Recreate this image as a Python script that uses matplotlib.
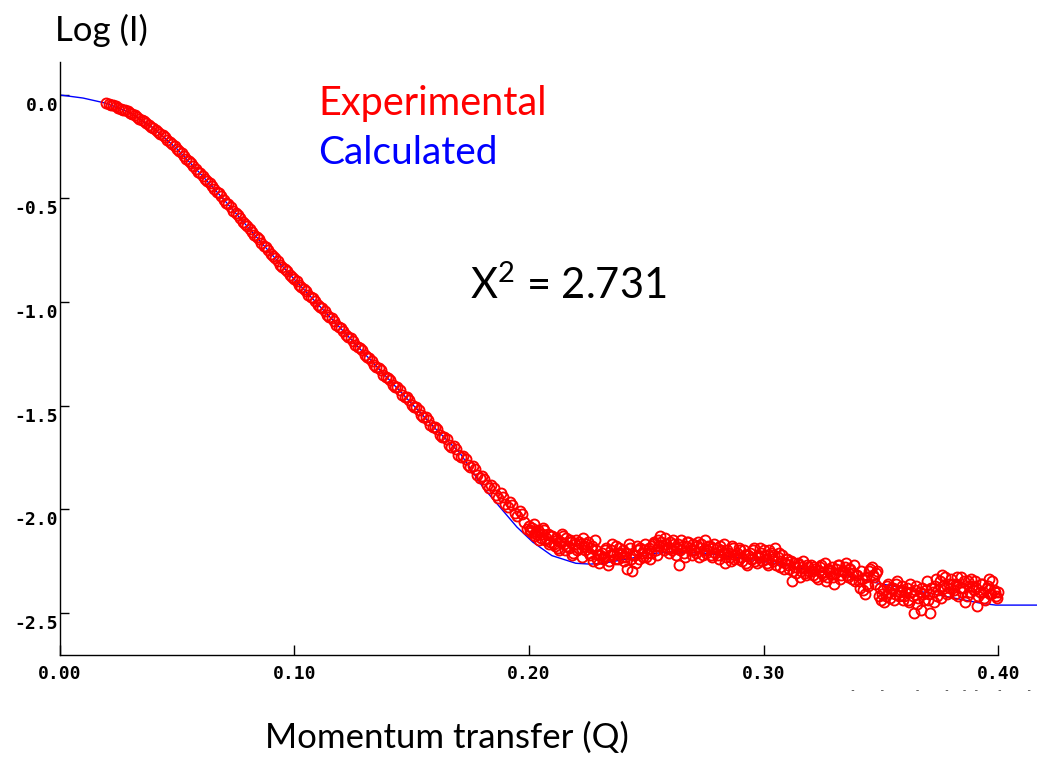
import matplotlib.pyplot as plt
from matplotlib.transforms import ScaledTranslation

# experimental points, low Q part (even steps 0.020 .. 0.198)
q_low = [0.020, 0.022, 0.024, 0.026, 0.028, 0.030, 0.032, 0.034, 0.036, 0.038,
         0.040, 0.042, 0.044, 0.046, 0.048, 0.050, 0.052, 0.054, 0.056, 0.058,
         0.060, 0.062, 0.064, 0.066, 0.068, 0.070, 0.072, 0.074, 0.076, 0.078,
         0.080, 0.082, 0.084, 0.086, 0.088, 0.090, 0.092, 0.094, 0.096, 0.098,
         0.100, 0.102, 0.104, 0.106, 0.108, 0.110, 0.112, 0.114, 0.116, 0.118,
         0.120, 0.122, 0.124, 0.126, 0.128, 0.130, 0.132, 0.134, 0.136, 0.138,
         0.140, 0.142, 0.144, 0.146, 0.148, 0.150, 0.152, 0.154, 0.156, 0.158,
         0.160, 0.162, 0.164, 0.166, 0.168, 0.170, 0.172, 0.174, 0.176, 0.178,
         0.180, 0.182, 0.184, 0.186, 0.188, 0.190, 0.192, 0.194, 0.196, 0.198]
logi_low = [-0.038, -0.050, -0.055, -0.067, -0.073, -0.088, -0.097, -0.116, -0.125, -0.146,
            -0.158, -0.181, -0.193, -0.218, -0.235, -0.262, -0.281, -0.311, -0.329, -0.359,
            -0.377, -0.407, -0.425, -0.456, -0.476, -0.508, -0.528, -0.560, -0.580, -0.612,
            -0.632, -0.664, -0.684, -0.716, -0.736, -0.768, -0.788, -0.820, -0.839, -0.869,
            -0.887, -0.918, -0.935, -0.966, -0.983, -1.014, -1.030, -1.062, -1.078, -1.110,
            -1.126, -1.158, -1.174, -1.207, -1.221, -1.255, -1.270, -1.303, -1.317, -1.352,
            -1.365, -1.399, -1.413, -1.448, -1.460, -1.496, -1.508, -1.545, -1.556, -1.593,
            -1.602, -1.642, -1.650, -1.690, -1.697, -1.738, -1.745, -1.786, -1.792, -1.835,
            -1.840, -1.885, -1.884, -1.930, -1.925, -1.975, -1.968, -2.020, -2.010, -2.062]

# experimental points, low Q part (odd steps 0.021 .. 0.199)
q_low_odd = [0.021, 0.023, 0.025, 0.027, 0.029, 0.031, 0.033, 0.035, 0.037, 0.039,
             0.041, 0.043, 0.045, 0.047, 0.049, 0.051, 0.053, 0.055, 0.057, 0.059,
             0.061, 0.063, 0.065, 0.067, 0.069, 0.071, 0.073, 0.075, 0.077, 0.079,
             0.081, 0.083, 0.085, 0.087, 0.089, 0.091, 0.093, 0.095, 0.097, 0.099,
             0.101, 0.103, 0.105, 0.107, 0.109, 0.111, 0.113, 0.115, 0.117, 0.119,
             0.121, 0.123, 0.125, 0.127, 0.129, 0.131, 0.133, 0.135, 0.137, 0.139,
             0.141, 0.143, 0.145, 0.147, 0.149, 0.151, 0.153, 0.155, 0.157, 0.159,
             0.161, 0.163, 0.165, 0.167, 0.169, 0.171, 0.173, 0.175, 0.177, 0.179,
             0.181, 0.183, 0.185, 0.187, 0.189, 0.191, 0.193, 0.195, 0.197, 0.199]
logi_low_odd = [-0.045, -0.051, -0.062, -0.071, -0.079, -0.093, -0.105, -0.121, -0.134, -0.153,
                -0.168, -0.188, -0.204, -0.228, -0.247, -0.273, -0.294, -0.321, -0.342, -0.370,
                -0.391, -0.418, -0.438, -0.468, -0.490, -0.520, -0.542, -0.572, -0.594, -0.624,
                -0.646, -0.676, -0.698, -0.728, -0.750, -0.780, -0.802, -0.833, -0.852, -0.880,
                -0.900, -0.929, -0.948, -0.977, -0.996, -1.025, -1.043, -1.073, -1.091, -1.121,
                -1.139, -1.169, -1.187, -1.218, -1.234, -1.266, -1.283, -1.314, -1.330, -1.362,
                -1.378, -1.410, -1.426, -1.458, -1.474, -1.506, -1.522, -1.554, -1.570, -1.604,
                -1.615, -1.652, -1.664, -1.700, -1.712, -1.748, -1.760, -1.798, -1.805, -1.848,
                -1.855, -1.900, -1.898, -1.945, -1.940, -1.990, -1.982, -2.035, -2.025, -2.095]

# experimental points, high Q part (0.200 .. 0.400)
q_high = [0.200, 0.201, 0.202, 0.203, 0.204, 0.205, 0.206, 0.207, 0.208, 0.209,
          0.210, 0.211, 0.212, 0.213, 0.214, 0.215, 0.216, 0.217, 0.218, 0.219,
          0.220, 0.221, 0.222, 0.223, 0.224, 0.225, 0.226, 0.227, 0.228, 0.229,
          0.230, 0.231, 0.232, 0.233, 0.234, 0.235, 0.236, 0.237, 0.238, 0.239,
          0.240, 0.241, 0.242, 0.243, 0.244, 0.245, 0.246, 0.247, 0.248, 0.249,
          0.250, 0.251, 0.252, 0.253, 0.254, 0.255, 0.256, 0.257, 0.258, 0.259,
          0.260, 0.261, 0.262, 0.263, 0.264, 0.265, 0.266, 0.267, 0.268, 0.269,
          0.270, 0.271, 0.272, 0.273, 0.274, 0.275, 0.276, 0.277, 0.278, 0.279,
          0.280, 0.281, 0.282, 0.283, 0.284, 0.285, 0.286, 0.287, 0.288, 0.289,
          0.290, 0.291, 0.292, 0.293, 0.294, 0.295, 0.296, 0.297, 0.298, 0.299,
          0.300, 0.301, 0.302, 0.303, 0.304, 0.305, 0.306, 0.307, 0.308, 0.309,
          0.310, 0.311, 0.312, 0.313, 0.314, 0.315, 0.316, 0.317, 0.318, 0.319,
          0.320, 0.321, 0.322, 0.323, 0.324, 0.325, 0.326, 0.327, 0.328, 0.329,
          0.330, 0.331, 0.332, 0.333, 0.334, 0.335, 0.336, 0.337, 0.338, 0.339,
          0.340, 0.341, 0.342, 0.343, 0.344, 0.345, 0.346, 0.347, 0.348, 0.349,
          0.350, 0.351, 0.352, 0.353, 0.354, 0.355, 0.356, 0.357, 0.358, 0.359,
          0.360, 0.361, 0.362, 0.363, 0.364, 0.365, 0.366, 0.367, 0.368, 0.369,
          0.370, 0.371, 0.372, 0.373, 0.374, 0.375, 0.376, 0.377, 0.378, 0.379,
          0.380, 0.381, 0.382, 0.383, 0.384, 0.385, 0.386, 0.387, 0.388, 0.389,
          0.390, 0.391, 0.392, 0.393, 0.394, 0.395, 0.396, 0.397, 0.398, 0.399,
          0.400]
logi_high = [-2.08, -2.11, -2.07, -2.12, -2.10, -2.14, -2.09, -2.15, -2.12, -2.16,
             -2.13, -2.18, -2.15, -2.20, -2.12, -2.17, -2.14, -2.19, -2.16, -2.21,
             -2.15, -2.19, -2.17, -2.14, -2.20, -2.16, -2.22, -2.18, -2.15, -2.24,
             -2.26, -2.21, -2.23, -2.19, -2.25, -2.20, -2.22, -2.18, -2.24, -2.21,
             -2.20, -2.23, -2.29, -2.19, -2.30, -2.22, -2.18, -2.24, -2.21, -2.20,
             -2.23, -2.19, -2.21, -2.17, -2.20, -2.15, -2.13, -2.18, -2.14, -2.19,
             -2.16, -2.20, -2.17, -2.19, -2.27, -2.15, -2.21, -2.18, -2.16, -2.20,
             -2.17, -2.21, -2.16, -2.19, -2.22, -2.15, -2.20, -2.18, -2.23, -2.17,
             -2.19, -2.24, -2.20, -2.17, -2.23, -2.21, -2.25, -2.19, -2.22, -2.24,
             -2.20, -2.25, -2.22, -2.27, -2.21, -2.24, -2.19, -2.26, -2.23, -2.21,
             -2.20, -2.24, -2.27, -2.21, -2.25, -2.19, -2.23, -2.28, -2.22, -2.26,
             -2.24, -2.29, -2.35, -2.26, -2.31, -2.27, -2.30, -2.25, -2.32, -2.28,
             -2.27, -2.32, -2.29, -2.34, -2.28, -2.31, -2.26, -2.33, -2.30, -2.28,
             -2.36, -2.29, -2.27, -2.32, -2.30, -2.26, -2.33, -2.29, -2.31, -2.35,
             -2.32, -2.38, -2.34, -2.41, -2.36, -2.30, -2.28, -2.33, -2.31, -2.42,
             -2.44, -2.39, -2.42, -2.36, -2.43, -2.38, -2.41, -2.35, -2.40, -2.37,
             -2.42, -2.38, -2.45, -2.40, -2.50, -2.37, -2.43, -2.49, -2.41, -2.39,
             -2.44, -2.50, -2.40, -2.37, -2.42, -2.35, -2.32, -2.38, -2.41, -2.36,
             -2.34, -2.39, -2.36, -2.42, -2.33, -2.38, -2.45, -2.35, -2.40, -2.37,
             -2.35, -2.47, -2.40, -2.36, -2.43, -2.38, -2.34, -2.41, -2.39, -2.42,
             -2.40]

# experimental points, high Q part, half steps (0.2005 .. 0.3995)
q_high_half = [0.2005, 0.2015, 0.2025, 0.2035, 0.2045, 0.2055, 0.2065, 0.2075, 0.2085, 0.2095,
               0.2105, 0.2115, 0.2125, 0.2135, 0.2145, 0.2155, 0.2165, 0.2175, 0.2185, 0.2195,
               0.2205, 0.2215, 0.2225, 0.2235, 0.2245, 0.2255, 0.2265, 0.2275, 0.2285, 0.2295,
               0.2305, 0.2315, 0.2325, 0.2335, 0.2345, 0.2355, 0.2365, 0.2375, 0.2385, 0.2395,
               0.2405, 0.2415, 0.2425, 0.2435, 0.2445, 0.2455, 0.2465, 0.2475, 0.2485, 0.2495,
               0.2505, 0.2515, 0.2525, 0.2535, 0.2545, 0.2555, 0.2565, 0.2575, 0.2585, 0.2595,
               0.2605, 0.2615, 0.2625, 0.2635, 0.2645, 0.2655, 0.2665, 0.2675, 0.2685, 0.2695,
               0.2705, 0.2715, 0.2725, 0.2735, 0.2745, 0.2755, 0.2765, 0.2775, 0.2785, 0.2795,
               0.2805, 0.2815, 0.2825, 0.2835, 0.2845, 0.2855, 0.2865, 0.2875, 0.2885, 0.2895,
               0.2905, 0.2915, 0.2925, 0.2935, 0.2945, 0.2955, 0.2965, 0.2975, 0.2985, 0.2995,
               0.3005, 0.3015, 0.3025, 0.3035, 0.3045, 0.3055, 0.3065, 0.3075, 0.3085, 0.3095,
               0.3105, 0.3115, 0.3125, 0.3135, 0.3145, 0.3155, 0.3165, 0.3175, 0.3185, 0.3195,
               0.3205, 0.3215, 0.3225, 0.3235, 0.3245, 0.3255, 0.3265, 0.3275, 0.3285, 0.3295,
               0.3305, 0.3315, 0.3325, 0.3335, 0.3345, 0.3355, 0.3365, 0.3375, 0.3385, 0.3395,
               0.3405, 0.3415, 0.3425, 0.3435, 0.3445, 0.3455, 0.3465, 0.3475, 0.3485, 0.3495,
               0.3505, 0.3515, 0.3525, 0.3535, 0.3545, 0.3555, 0.3565, 0.3575, 0.3585, 0.3595,
               0.3605, 0.3615, 0.3625, 0.3635, 0.3645, 0.3655, 0.3665, 0.3675, 0.3685, 0.3695,
               0.3705, 0.3715, 0.3725, 0.3735, 0.3745, 0.3755, 0.3765, 0.3775, 0.3785, 0.3795,
               0.3805, 0.3815, 0.3825, 0.3835, 0.3845, 0.3855, 0.3865, 0.3875, 0.3885, 0.3895,
               0.3905, 0.3915, 0.3925, 0.3935, 0.3945, 0.3955, 0.3965, 0.3975, 0.3985, 0.3995]
logi_high_half = [-2.10, -2.09, -2.13, -2.11, -2.15, -2.12, -2.10, -2.14, -2.17, -2.13,
                  -2.17, -2.14, -2.19, -2.16, -2.13, -2.20, -2.18, -2.15, -2.22, -2.17,
                  -2.20, -2.16, -2.23, -2.18, -2.17, -2.21, -2.19, -2.25, -2.20, -2.22,
                  -2.22, -2.24, -2.20, -2.27, -2.22, -2.17, -2.24, -2.21, -2.19, -2.23,
                  -2.25, -2.21, -2.17, -2.24, -2.22, -2.26, -2.20, -2.19, -2.23, -2.17,
                  -2.21, -2.24, -2.18, -2.16, -2.22, -2.18, -2.16, -2.20, -2.17, -2.21,
                  -2.19, -2.15, -2.22, -2.17, -2.20, -2.18, -2.23, -2.16, -2.19, -2.22,
                  -2.20, -2.18, -2.23, -2.17, -2.20, -2.21, -2.18, -2.22, -2.19, -2.21,
                  -2.22, -2.18, -2.21, -2.26, -2.20, -2.23, -2.18, -2.24, -2.21, -2.19,
                  -2.23, -2.20, -2.26, -2.22, -2.24, -2.20, -2.25, -2.22, -2.19, -2.25,
                  -2.22, -2.26, -2.20, -2.24, -2.22, -2.27, -2.21, -2.25, -2.29, -2.24,
                  -2.27, -2.25, -2.30, -2.28, -2.26, -2.33, -2.28, -2.31, -2.27, -2.30,
                  -2.30, -2.28, -2.33, -2.30, -2.27, -2.32, -2.35, -2.29, -2.31, -2.33,
                  -2.31, -2.27, -2.34, -2.30, -2.28, -2.32, -2.29, -2.34, -2.27, -2.32,
                  -2.35, -2.30, -2.39, -2.33, -2.37, -2.29, -2.32, -2.36, -2.30, -2.38,
                  -2.41, -2.45, -2.37, -2.40, -2.38, -2.44, -2.36, -2.42, -2.39, -2.44,
                  -2.40, -2.44, -2.36, -2.42, -2.39, -2.46, -2.40, -2.38, -2.44, -2.35,
                  -2.41, -2.38, -2.45, -2.34, -2.39, -2.43, -2.37, -2.33, -2.40, -2.38,
                  -2.36, -2.41, -2.33, -2.38, -2.40, -2.35, -2.42, -2.37, -2.34, -2.39,
                  -2.38, -2.42, -2.36, -2.40, -2.44, -2.37, -2.41, -2.35, -2.40, -2.43]

# calculated curve
q_calc = [0.000, 0.010, 0.0194, 0.030, 0.040, 0.050, 0.060, 0.070, 0.080, 0.090,
          0.100, 0.110, 0.120, 0.130, 0.140, 0.150, 0.160, 0.1706, 0.1804, 0.1876,
          0.1949, 0.2017, 0.2098, 0.220, 0.226, 0.2316, 0.2435, 0.2537, 0.261, 0.2759,
          0.2904, 0.3049, 0.3198, 0.3342, 0.3492, 0.3636, 0.3785, 0.393, 0.399, 0.4165]
logi_calc = [0.000, -0.015, -0.039, -0.085, -0.160, -0.260, -0.380, -0.505, -0.635, -0.765,
             -0.890, -1.010, -1.130, -1.250, -1.370, -1.490, -1.610, -1.729, -1.894, -1.990,
             -2.087, -2.160, -2.225, -2.262, -2.266, -2.262, -2.238, -2.214, -2.206, -2.214,
             -2.238, -2.262, -2.295, -2.319, -2.359, -2.391, -2.424, -2.456, -2.464, -2.464]

x_ticks = [0.0, 0.1, 0.2, 0.3, 0.4]
x_labels = ['0.00', '0.10', '0.20', '0.30', '0.40']
y_ticks = [0.0, -0.5, -1.0, -1.5, -2.0, -2.5]
y_labels = ['0.0', '-0.5', '-1.0', '-1.5', '-2.0', '-2.5']

plt.rcParams['mathtext.fontset'] = 'custom'
plt.rcParams['mathtext.rm'] = 'Lato'

W, H = 1037, 760
fig = plt.figure(figsize=(W / 100, H / 100), dpi=100)
ax = fig.add_axes([59.5 / W, 105 / H, 1 - 59.5 / W, 593 / H])

q_exp = q_low + q_low_odd + q_high + q_high_half
logi_exp = logi_low + logi_low_odd + logi_high + logi_high_half

ax.plot(q_calc, logi_calc, color='#0000ff', linewidth=1.0, zorder=2)
ax.plot(q_exp, logi_exp, 'o', color='#ff0000', fillstyle='none',
        markersize=7.2, markeredgewidth=1.35, zorder=3)

ax.set_xlim(0, 0.4165)
ax.set_ylim(-2.705, 0.159)

ax.spines['top'].set_visible(False)
ax.spines['right'].set_visible(False)
ax.spines['bottom'].set_bounds(0, 0.4)
for s in ('left', 'bottom'):
    ax.spines[s].set_linewidth(1.0)

mono = {'family': 'DejaVu Sans Mono', 'weight': 'bold', 'size': 13}
ax.set_xticks(x_ticks)
ax.set_xticklabels(x_labels, fontdict=mono)
ax.set_yticks(y_ticks)
ax.set_yticklabels(y_labels, fontdict=mono)
ax.tick_params(axis='x', direction='in', length=7.2, width=1.0, pad=7)
ax.tick_params(axis='y', direction='in', length=6.5, width=1.0, pad=1)
# y labels sit a little below their ticks in the original
for lab in ax.get_yticklabels():
    lab.set_transform(lab.get_transform() + ScaledTranslation(0, -0.09, fig.dpi_scale_trans))

font = 'Lato'
fig.text(55 / W, 1 - 30 / H, 'Log (I)', fontsize=25, family=font, va='center', ha='left')
fig.text(265 / W, 1 - 738 / H, 'Momentum transfer (Q)', fontsize=25, family=font,
         va='center', ha='left')
fig.text(318 / W, 1 - 103 / H, 'Experimental', fontsize=28.5, family=font, color='#ff0000',
         va='center', ha='left')
fig.text(318 / W, 1 - 153 / H, 'Calculated', fontsize=28, family=font, color='#0000ff',
         va='center', ha='left')
fig.text(470 / W, 1 - 285 / H, r'X$^\mathregular{2}$ = 2.731', fontsize=30, family=font,
         va='center', ha='left')
# faint clipped marks under the 0.40 label
fig.text(850 / W, 1 - 690 / H, '-    -     -    -  - -   -    -', fontsize=7,
         family='DejaVu Sans Mono', color='#444444', va='center', ha='left')

fig.savefig('out.png', dpi=100)
